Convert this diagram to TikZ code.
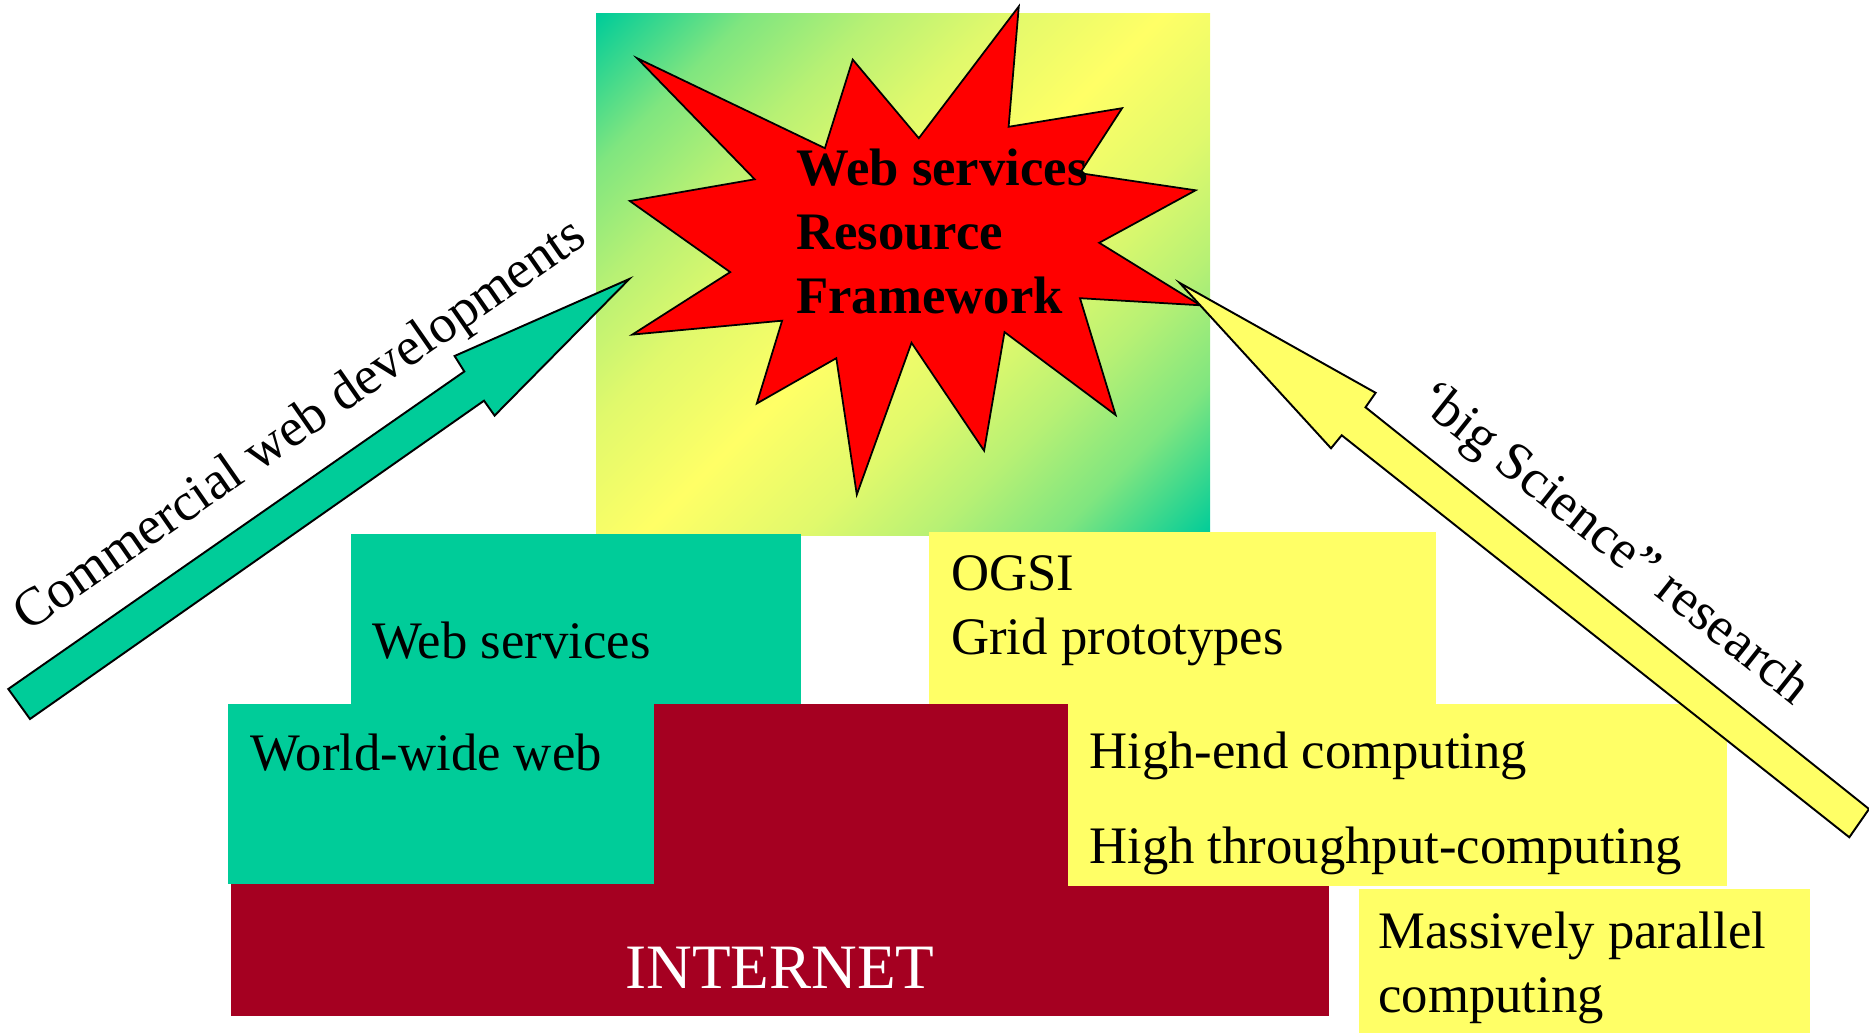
\documentclass[tikz,border=0pt]{standalone}
\usepackage{fontspec}
\setmainfont{Liberation Serif}
\definecolor{tealc}{RGB}{0,204,153}
\definecolor{yelc}{RGB}{255,255,102}
\definecolor{maroonc}{RGB}{165,0,33}
\definecolor{redc}{RGB}{255,0,0}
\colorlet{tyA}{yelc!50!tealc}
\colorlet{tyB}{yelc!72!tealc}
\colorlet{tyC}{yelc!88!tealc}
\pgfdeclarehorizontalshading{tealyellow}{100bp}{color(0bp)=(tealc); color(14.6bp)=(tealc); color(24bp)=(tyA); color(32bp)=(tyB); color(40bp)=(tyC); color(50bp)=(yelc); color(60bp)=(tyC); color(68bp)=(tyB); color(76bp)=(tyA); color(85.4bp)=(tealc); color(100bp)=(tealc)}
\begin{document}
\begin{tikzpicture}[x=0.02cm,y=-0.02cm,
  lbl/.style={inner sep=0pt, anchor=base west, font=\fontsize{30}{36}\selectfont},
  boldlbl/.style={lbl, font=\fontsize{30}{36}\selectfont\bfseries},
  rotlbl/.style={lbl, font=\fontsize{30.7}{37}\selectfont},
  blockarrow/.style={draw=black, line width=1.1pt, line join=miter},
  starshape/.style={fill=redc, draw=black, line width=1pt, line join=miter},
  greenbox/.style={fill=tealc},
  yellowbox/.style={fill=yelc},
  maroonbox/.style={fill=maroonc}]
\useasboundingbox (0,0) rectangle (1869,1033);
% gradient background square
\shade[shading=tealyellow, shading angle=-45] (596,14) rectangle (1210,535);
% explosion star
\filldraw[starshape] (1018.8,6.4) -- (1008.6,126.8) -- (1122.1,108.2) -- (1080,173.2)
  -- (1195.6,190.3) -- (1099.2,242.8) -- (1200.5,305.3) -- (1080,298.2)
  -- (1115.6,415) -- (1004.5,332.1) -- (984.1,450.7) -- (911.5,342.8)
  -- (856.8,494.6) -- (836.3,358.2) -- (756.8,403.5) -- (782.1,320.7)
  -- (632.3,334.6) -- (730.2,272.1) -- (629.8,201) -- (754.7,179.3)
  -- (637.1,58.2) -- (824.9,148.2) -- (852.7,59.6) -- (918.8,138.2) -- cycle;
\node[boldlbl] (wsrfA) at (796,186) {Web services};
\node[boldlbl] (wsrfB) at (796,250) {Resource};
\node[boldlbl] (wsrfC) at (796,314) {Framework};
% boxes
\fill[maroonbox] (231,704) rectangle (1329,1016);
\fill[greenbox] (351,534) rectangle (801,704);
\fill[greenbox] (228,704) rectangle (654,884);
\fill[yellowbox] (929,532) rectangle (1436,704);
\fill[yellowbox] (1068,704) rectangle (1727,886);
\fill[yellowbox] (1359,889) rectangle (1810,1033);
% box texts
\node[lbl] (websvc) at (372,658) {Web services};
\node[lbl] (www) at (250,770) {World-wide web};
\node[lbl, anchor=base, text=white, font=\fontsize{36}{43}\selectfont] (internet) at (780,988) {INTERNET};
\node[lbl] (ogsi) at (951,590) {OGSI};
\node[lbl] (grid) at (951,654) {Grid prototypes};
\node[lbl] (highend) at (1089,768) {High-end computing};
\node[lbl] (highthr) at (1089,863) {High throughput-computing};
\node[lbl] (massA) at (1378,948) {Massively parallel};
\node[lbl] (massB) at (1378,1012) {computing};
% block arrows
\filldraw[blockarrow, fill=tealc] (629.3,279) -- (454.6,356) -- (464.3,371.5) -- (8.3,689)
  -- (30,719) -- (484,400.7) -- (494.6,415.6) -- cycle;
\filldraw[blockarrow, fill=yelc] (1179.8,283) -- (1375.6,392.8) -- (1365.5,407.3) -- (1869,809)
  -- (1849.3,837.3) -- (1341.7,435.3) -- (1331,448.3) -- cycle;
\node[rotlbl, rotate=34.8] (commercial) at (28,633) {Commercial web developments};
\node[rotlbl, rotate=-38.5] (bigsci) at (1414,404) {‘big Science” research};
\end{tikzpicture}
\end{document}
